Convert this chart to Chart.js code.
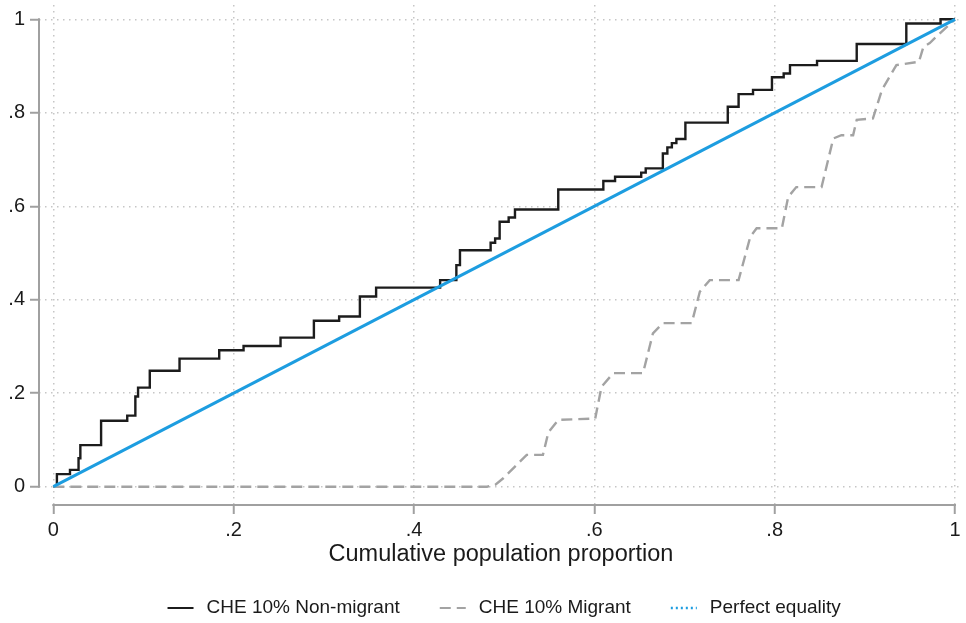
<!DOCTYPE html>
<html>
<head>
<meta charset="utf-8">
<title>Concentration curves - CHE 10%</title>
<script src="https://cdn.jsdelivr.net/npm/chart.js@4.4.1/dist/chart.umd.min.js"></script>
<style>
  html, body { margin: 0; padding: 0; background: #fff; }
  #wrap { width: 966px; height: 623px; }
</style>
</head>
<body>
<div id="wrap"><canvas id="chart" width="966" height="623"></canvas></div>
<script>
// Non-migrant curve (step points: value rises to y at x)
const nonMigrantX = [0, 0.004, 0.0185, 0.028, 0.030, 0.053, 0.082, 0.091, 0.094, 0.107, 0.140, 0.184, 0.211, 0.252,
    0.289, 0.317, 0.340, 0.358, 0.429, 0.447, 0.451, 0.485, 0.490, 0.495, 0.505, 0.512, 0.560, 0.610, 0.623,
    0.652, 0.657, 0.676, 0.681, 0.686, 0.691, 0.701, 0.748, 0.760, 0.776, 0.797, 0.810, 0.817, 0.847, 0.891,
    0.946, 0.984, 1.0];
const nonMigrantY = [0, 0.027, 0.036, 0.061, 0.089, 0.141, 0.152, 0.193, 0.212, 0.248, 0.274, 0.292, 0.301, 0.319,
    0.355, 0.364, 0.407, 0.426, 0.442, 0.474, 0.506, 0.522, 0.531, 0.567, 0.576, 0.593, 0.636, 0.654, 0.663,
    0.672, 0.681, 0.713, 0.726, 0.735, 0.744, 0.779, 0.813, 0.840, 0.849, 0.876, 0.884, 0.902, 0.911, 0.947,
    0.991, 1.0, 1.0];

// Migrant curve
const migrantX = [0, 0.481, 0.490, 0.499, 0.512, 0.525, 0.543, 0.549, 0.560, 0.601, 0.608, 0.621, 0.654, 0.665,
    0.676, 0.708, 0.717, 0.728, 0.760, 0.773, 0.780, 0.808, 0.815, 0.824, 0.852, 0.865, 0.874, 0.887, 0.891,
    0.909, 0.919, 0.935, 0.960, 0.965, 0.972, 0.981, 1.0];
const migrantY = [0, 0, 0.004, 0.018, 0.043, 0.068, 0.068, 0.116, 0.143, 0.146, 0.214, 0.243, 0.243, 0.328,
    0.350, 0.350, 0.417, 0.442, 0.442, 0.535, 0.553, 0.553, 0.620, 0.641, 0.641, 0.745, 0.752, 0.752, 0.785,
    0.788, 0.849, 0.902, 0.909, 0.941, 0.949, 0.966, 1.0];

// Line of perfect equality
const equalityX = [0, 1];
const equalityY = [0, 1];

const xTickValues = [0, 0.2, 0.4, 0.6, 0.8, 1];
const xTickLabels = ['0', '.2', '.4', '.6', '.8', '1'];
const yTickValues = [0, 0.2, 0.4, 0.6, 0.8, 1];
const yTickLabels = ['0', '.2', '.4', '.6', '.8', '1'];

const FONT = '"Liberation Sans", Arial, Helvetica, sans-serif';

function toPoints(xs, ys) {
    return xs.map((x, i) => ({ x: x, y: ys[i] }));
}

const seriesStyles = [
    { label: 'CHE 10% Non-migrant', color: '#1c1c1c', width: 2, dash: [] },
    { label: 'CHE 10% Migrant', color: '#a3a3a3', width: 2, dash: [11, 6] },
    { label: 'Perfect equality', color: '#1d9de0', width: 2.5, dash: [2, 3] }
];

// Stata-like axis lines that only span the 0..1 range
const axisLinesPlugin = {
    id: 'axisLines',
    afterDraw(chart) {
        const { ctx, chartArea, scales } = chart;
        ctx.save();
        ctx.strokeStyle = '#a0a0a0';
        ctx.lineWidth = 2;
        ctx.setLineDash([]);
        ctx.beginPath();
        ctx.moveTo(scales.x.getPixelForValue(0) - 1, chartArea.bottom);
        ctx.lineTo(scales.x.getPixelForValue(1) + 1, chartArea.bottom);
        ctx.moveTo(chartArea.left, scales.y.getPixelForValue(0) + 1);
        ctx.lineTo(chartArea.left, scales.y.getPixelForValue(1) - 1);
        ctx.stroke();
        ctx.restore();
    }
};

// Legend row drawn under the axis title
const legendPlugin = {
    id: 'bottomLegend',
    afterDraw(chart) {
        const { ctx, scales } = chart;
        const sampleW = 26, gap = 13, itemGap = 40;
        ctx.save();
        ctx.font = '19px ' + FONT;
        ctx.textBaseline = 'middle';
        ctx.textAlign = 'left';
        const widths = seriesStyles.map(s => ctx.measureText(s.label).width);
        let total = itemGap * (seriesStyles.length - 1);
        widths.forEach(w => { total += sampleW + gap + w; });
        const center = (scales.x.getPixelForValue(0) + scales.x.getPixelForValue(1)) / 2;
        let x = center - total / 2;
        const y = chart.height - 15;
        seriesStyles.forEach((s, i) => {
            ctx.strokeStyle = s.color;
            ctx.lineWidth = s.width;
            ctx.setLineDash(s.dash);
            ctx.beginPath();
            ctx.moveTo(x, y);
            ctx.lineTo(x + sampleW, y);
            ctx.stroke();
            ctx.fillStyle = '#1a1a1a';
            ctx.fillText(s.label, x + sampleW + gap, y);
            x += sampleW + gap + widths[i] + itemGap;
        });
        ctx.restore();
    }
};

const ctx = document.getElementById('chart');

new Chart(ctx, {
    type: 'line',
    data: {
        datasets: [{
            label: seriesStyles[0].label,
            data: toPoints(nonMigrantX, nonMigrantY),
            borderColor: seriesStyles[0].color,
            borderWidth: 2.4,
            stepped: 'before',
            pointRadius: 0,
            fill: false,
            order: 2
        }, {
            label: seriesStyles[1].label,
            data: toPoints(migrantX, migrantY),
            borderColor: seriesStyles[1].color,
            borderWidth: 2.4,
            borderDash: [11, 6],
            pointRadius: 0,
            tension: 0,
            fill: false,
            order: 1
        }, {
            label: seriesStyles[2].label,
            data: toPoints(equalityX, equalityY),
            borderColor: seriesStyles[2].color,
            borderWidth: 3,
            pointRadius: 0,
            fill: false,
            order: 0
        }]
    },
    options: {
        responsive: false,
        animation: false,
        devicePixelRatio: 1,
        layout: {
            padding: { left: 0, top: 5, right: 3, bottom: 48 }
        },
        plugins: {
            legend: { display: false },
            tooltip: { enabled: false }
        },
        scales: {
            x: {
                type: 'linear',
                min: -0.01586,
                max: 1.00887,
                afterBuildTicks: function(scale) {
                    scale.ticks = xTickValues.map(v => ({ value: v }));
                },
                afterFit: function(scale) {
                    scale.height = 70;
                    scale.paddingLeft = 0;
                    scale.paddingRight = 0;
                },
                ticks: {
                    autoSkip: false,
                    maxRotation: 0,
                    padding: 4,
                    color: '#1a1a1a',
                    font: { family: FONT, size: 20 },
                    callback: function(value, index) {
                        return xTickLabels[index];
                    }
                },
                grid: {
                    color: '#c6c6c6',
                    lineWidth: 1.5,
                    tickColor: '#a0a0a0',
                    tickWidth: 2,
                    tickLength: 9
                },
                border: { display: false, dash: [1.5, 4.5] },
                title: {
                    display: true,
                    text: 'Cumulative population proportion',
                    color: '#1a1a1a',
                    font: { family: FONT, size: 23.5 },
                    padding: { top: 0, bottom: 6 }
                }
            },
            y: {
                type: 'linear',
                min: -0.03915,
                max: 1.0306,
                afterBuildTicks: function(scale) {
                    scale.ticks = yTickValues.map(v => ({ value: v }));
                },
                afterFit: function(scale) {
                    scale.width = 39;
                    scale.paddingTop = 0;
                    scale.paddingBottom = 0;
                },
                ticks: {
                    autoSkip: false,
                    padding: 5,
                    color: '#1a1a1a',
                    font: { family: FONT, size: 20 },
                    callback: function(value, index) {
                        return yTickLabels[index];
                    }
                },
                grid: {
                    color: '#c6c6c6',
                    lineWidth: 1.5,
                    tickColor: '#a0a0a0',
                    tickWidth: 2,
                    tickLength: 9
                },
                border: { display: false, dash: [1.5, 4.5] }
            }
        }
    },
    plugins: [axisLinesPlugin, legendPlugin]
});
</script>
</body>
</html>
